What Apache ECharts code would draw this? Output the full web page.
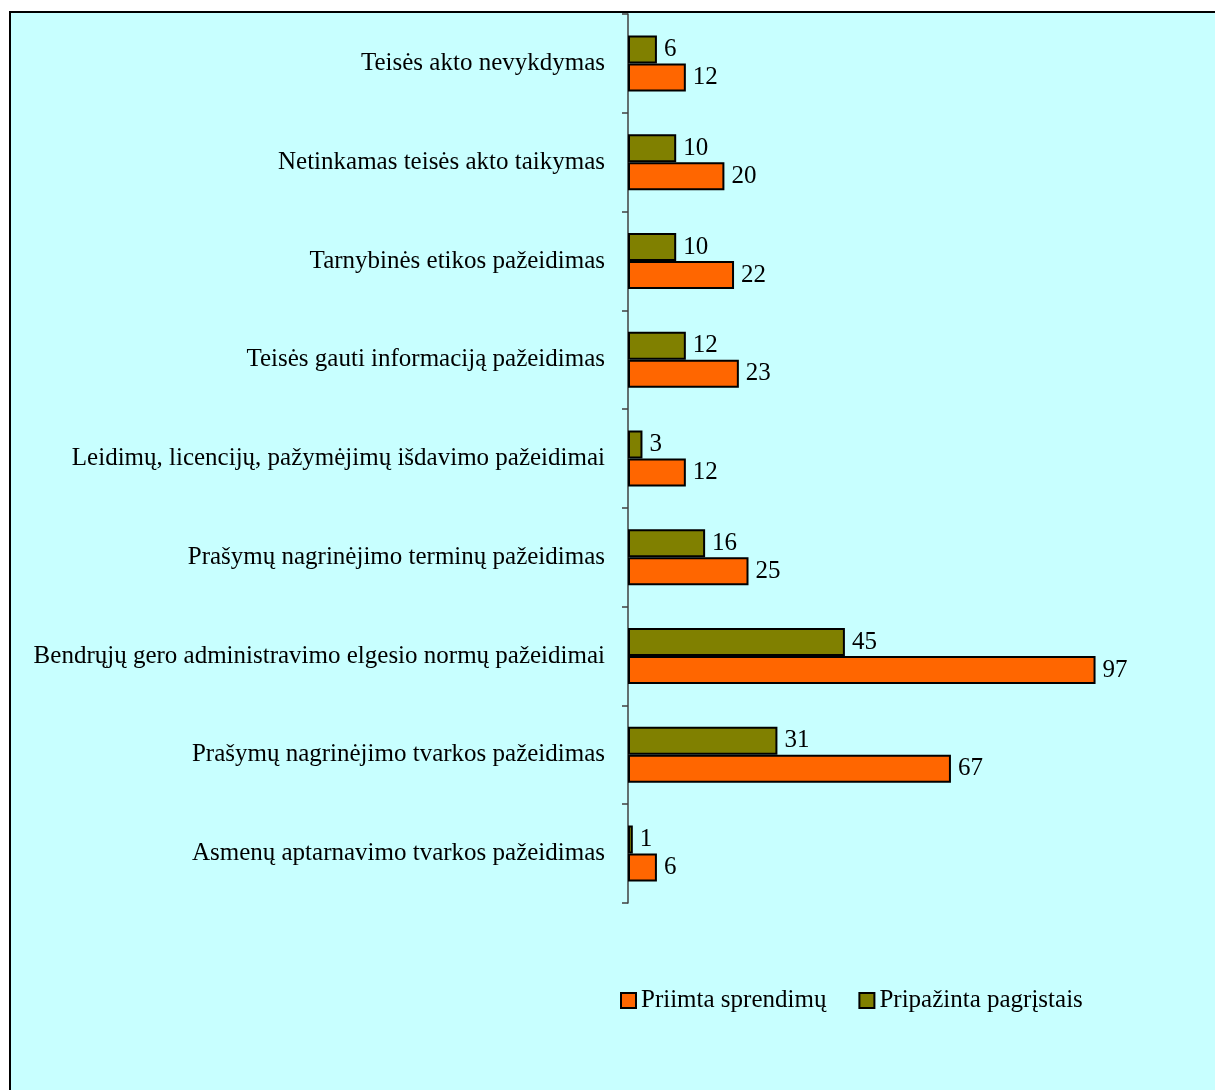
<!DOCTYPE html>
<html><head><meta charset="utf-8">
<script src="https://cdn.jsdelivr.net/npm/echarts@6/dist/echarts.min.js"></script>
<style>html,body{margin:0;padding:0;background:#fff}#c{width:1215px;height:1090px}</style>
</head><body><div id="c"></div>
<script>
const categories = [
  'Teisės akto nevykdymas',
  'Netinkamas teisės akto taikymas',
  'Tarnybinės etikos pažeidimas',
  'Teisės gauti informaciją pažeidimas',
  'Leidimų, licencijų, pažymėjimų išdavimo pažeidimai',
  'Prašymų nagrinėjimo terminų pažeidimas',
  'Bendrųjų gero administravimo elgesio normų pažeidimai',
  'Prašymų nagrinėjimo tvarkos pažeidimas',
  'Asmenų aptarnavimo tvarkos pažeidimas'
];
const priimta = [12, 20, 22, 23, 12, 25, 97, 67, 6];
const pripazinta = [6, 10, 10, 12, 3, 16, 45, 31, 1];
const seriesNames = ['Priimta sprendimų', 'Pripažinta pagrįstais'];

const chart = echarts.init(document.getElementById('c'));
const font = '"Liberation Serif", "Times New Roman", serif';
const labelStyle = {show: true, position: 'right', distance: 7, color: '#000', fontFamily: font, fontSize: 25};
chart.setOption({
  backgroundColor: '#fff',
  animation: false,
  graphic: [{
    type: 'rect', z: -10, silent: true,
    shape: {x: 10, y: 12, width: 1215, height: 1090},
    style: {fill: '#C8FFFF', stroke: '#000', lineWidth: 2}
  }],
  grid: {left: 628, top: 14, width: 482, height: 889, containLabel: false},
  xAxis: {type: 'value', min: 0, max: 100, show: false},
  yAxis: {
    type: 'category', data: categories, inverse: true,
    axisLine: {show: true, lineStyle: {color: '#404040', width: 1.5}},
    axisTick: {show: true, alignWithLabel: false, length: 6, lineStyle: {color: '#404040', width: 1.5}},
    axisLabel: {margin: 23, color: '#000', fontFamily: font, fontSize: 25}
  },
  legend: {
    data: seriesNames, left: 615, top: 983, icon: 'rect', itemWidth: 15, itemHeight: 15, itemGap: 32,
    textStyle: {fontFamily: font, fontSize: 25, color: '#000'},
    itemStyle: {borderColor: '#000', borderWidth: 2}
  },
  series: [
    {name: seriesNames[1], type: 'bar', data: pripazinta, barWidth: 28, barGap: '0%',
     itemStyle: {color: '#808000', borderColor: '#000', borderWidth: 2}, label: labelStyle},
    {name: seriesNames[0], type: 'bar', data: priimta, barWidth: 28, barGap: '0%',
     itemStyle: {color: '#FF6600', borderColor: '#000', borderWidth: 2}, label: labelStyle}
  ]
});
</script></body></html>
